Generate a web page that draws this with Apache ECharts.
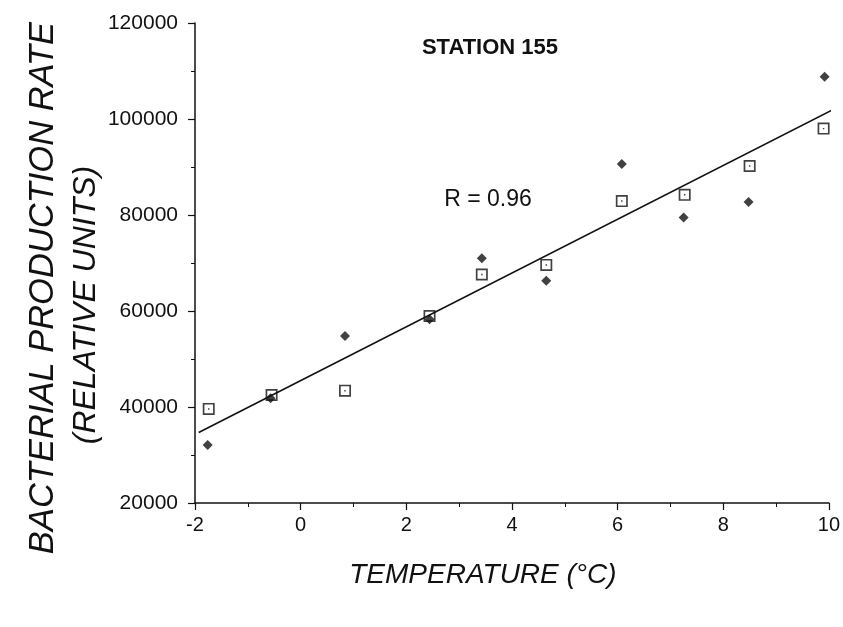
<!DOCTYPE html>
<html>
<head>
<meta charset="utf-8">
<script src="https://cdn.jsdelivr.net/npm/echarts@6/dist/echarts.min.js"></script>
<style>html,body{margin:0;padding:0;background:#fff;}#c{width:843px;height:627px;}</style>
</head>
<body>
<div id="c"></div>
<script>
// Open squares
const squareTemp = [-1.74, -0.55, 0.84, 2.44, 3.43, 4.65, 6.08, 7.27, 8.50, 9.90];
const squareRate = [39600, 42500, 43400, 58950, 67600, 69600, 82900, 84200, 90200, 98000];
// Filled diamonds
const diamondTemp = [-1.76, -0.57, 0.84, 2.44, 3.43, 4.65, 6.08, 7.25, 8.48, 9.92];
const diamondRate = [32100, 41800, 54800, 58300, 71000, 66300, 90600, 79500, 82700, 108800];
// Regression line end points
const fitTemp = [-1.93, 10.12];
const fitRate = [34700, 102200];
// Axis ticks
const xTicks = [-2, 0, 2, 4, 6, 8, 10];
const yTicks = [20000, 40000, 60000, 80000, 100000, 120000];

const FONT = '"Liberation Sans", Arial, sans-serif';
const zip = (a, b) => a.map((v, i) => [v, b[i]]);

const squarePath = 'path://M0 0H10V10H0Z M1.4 1.4V8.6H8.6V1.4Z M4.4 4.4H5.6V5.6H4.4Z';

const chart = echarts.init(document.getElementById('c'), null, {renderer: 'canvas'});
const axisCommon = {
  axisLine: {show: true, onZero: false, lineStyle: {color: '#111', width: 1.5}},
  axisTick: {show: true, inside: false, length: 7, lineStyle: {color: '#111', width: 1.2}},
  minorTick: {show: true, splitNumber: 2, length: 4, lineStyle: {color: '#111', width: 1}},
  splitLine: {show: false},
  axisLabel: {color: '#111', fontFamily: FONT, fontSize: 20, formatter: v => String(v)}
};
chart.setOption({
  animation: false,
  backgroundColor: '#fff',
  title: [
    {text: 'STATION 155', left: 485, top: 32, textAlign: 'center',
     textStyle: {fontFamily: FONT, fontSize: 22, fontWeight: 'bold', color: '#111'}},
    {text: 'R = 0.96', left: 483, top: 183, textAlign: 'center',
     textStyle: {fontFamily: FONT, fontSize: 23, fontWeight: 'normal', color: '#111'}}
  ],
  grid: {left: 195, right: 12, top: 23, bottom: 124},
  xAxis: Object.assign({}, axisCommon, {
    type: 'value', min: xTicks[0], max: xTicks[xTicks.length - 1], interval: 2,
    name: 'TEMPERATURE (°C)', nameLocation: 'middle', nameGap: 58,
    nameTextStyle: {fontFamily: FONT, fontSize: 28, fontStyle: 'italic', color: '#111', padding: [0, 58, 0, 0]},
    axisLabel: Object.assign({}, axisCommon.axisLabel, {margin: 12})
  }),
  yAxis: [
    Object.assign({}, axisCommon, {
      type: 'value', min: yTicks[0], max: yTicks[yTicks.length - 1], interval: 20000,
      name: 'BACTERIAL PRODUCTION RATE', nameLocation: 'middle', nameGap: 134, nameRotate: 90,
      nameTextStyle: {fontFamily: FONT, fontSize: 34.5, fontStyle: 'italic', color: '#111', padding: [0, 50, 0, 0]},
      axisLabel: Object.assign({}, axisCommon.axisLabel, {margin: 17, fontSize: 21})
    }),
    {
      type: 'value', min: yTicks[0], max: yTicks[yTicks.length - 1], interval: 20000, position: 'left',
      axisLine: {show: false, onZero: false}, axisTick: {show: false}, axisLabel: {show: false}, splitLine: {show: false},
      name: '(RELATIVE UNITS)', nameLocation: 'middle', nameGap: 93, nameRotate: 90,
      nameTextStyle: {fontFamily: FONT, fontSize: 32, fontStyle: 'italic', color: '#111', padding: [0, 84, 0, 0]}
    }
  ],
  series: [
    {
      type: 'line', data: zip(fitTemp, fitRate), showSymbol: false, symbol: 'none', clip: false,
      lineStyle: {color: '#111', width: 1.6}, z: 1
    },
    {
      type: 'scatter', data: zip(diamondTemp, diamondRate), symbol: 'diamond', symbolSize: [10, 10],
      itemStyle: {color: '#111'}, z: 2
    },
    {
      type: 'scatter', data: zip(squareTemp, squareRate), symbol: squarePath, symbolSize: 12,
      itemStyle: {color: '#111'}, z: 3
    }
  ]
});
</script>
</body>
</html>
